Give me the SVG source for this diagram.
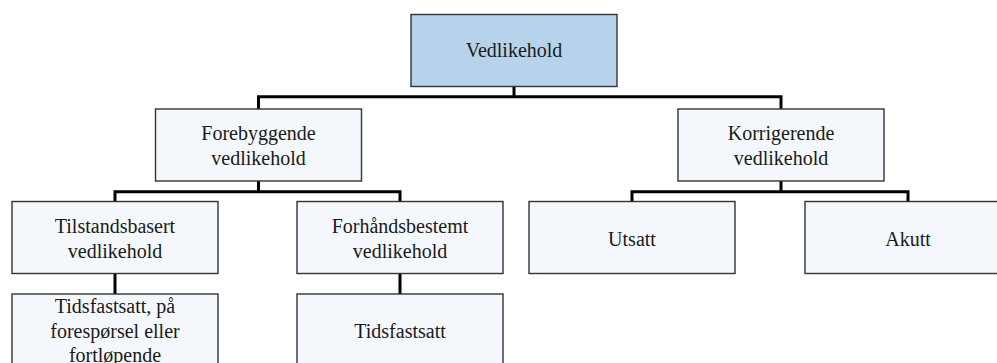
<svg xmlns="http://www.w3.org/2000/svg" width="997" height="363" viewBox="0 0 997 363">
  <style>
    .box { fill: #f4f8fc; stroke: #333333; stroke-width: 1.4; }
    .root { fill: #b7d3ec; }
    .lbl { font-family: 'Times New Roman', 'Liberation Serif', 'DejaVu Serif', 'Noto Serif', Times, serif; font-size: 20px; fill: #1a1a1a; text-anchor: middle; }
    .wire { fill: none; stroke: #000000; stroke-width: 3; stroke-linejoin: miter; }
  </style>

  <rect x="0" y="0" width="997" height="363" fill="#ffffff"/>

  <!-- tree connectors -->
  <g id="connectors">
    <path class="wire" d="M514 87 V96.7"/>
    <path class="wire" d="M258.5 109 V96.7 H781 V109"/>
    <path class="wire" d="M258.5 181 V191.7"/>
    <path class="wire" d="M115 201.5 V191.7 H400 V201.5"/>
    <path class="wire" d="M781 181 V191.7"/>
    <path class="wire" d="M632 201.5 V191.7 H908 V201.5"/>
    <path class="wire" d="M115 273.5 V294"/>
    <path class="wire" d="M400 273.5 V294"/>
  </g>

  <g id="vedlikehold">
    <rect class="box root" x="411" y="14.5" width="206" height="72"/>
    <text class="lbl" x="514" y="57">Vedlikehold</text>
  </g>

  <g id="forebyggende">
    <rect class="box" x="155.5" y="109" width="206" height="72"/>
    <text class="lbl" x="258.5" y="140">Forebyggende</text>
    <text class="lbl" x="258.5" y="165">vedlikehold</text>
  </g>

  <g id="korrigerende">
    <rect class="box" x="678" y="109" width="206" height="72"/>
    <text class="lbl" x="781" y="140">Korrigerende</text>
    <text class="lbl" x="781" y="165">vedlikehold</text>
  </g>

  <g id="tilstandsbasert">
    <rect class="box" x="12" y="201.5" width="206" height="72"/>
    <text class="lbl" x="115" y="233">Tilstandsbasert</text>
    <text class="lbl" x="115" y="258">vedlikehold</text>
  </g>

  <g id="forhandsbestemt">
    <rect class="box" x="297" y="201.5" width="206" height="72"/>
    <text class="lbl" x="400" y="233">Forhåndsbestemt</text>
    <text class="lbl" x="400" y="258">vedlikehold</text>
  </g>

  <g id="utsatt">
    <rect class="box" x="529" y="201.5" width="206" height="72"/>
    <text class="lbl" x="632" y="245.5">Utsatt</text>
  </g>

  <g id="akutt">
    <rect class="box" x="805" y="201.5" width="206" height="72"/>
    <text class="lbl" x="908" y="245.5">Akutt</text>
  </g>

  <g id="tidsfastsatt-tilstand">
    <rect class="box" x="12" y="294" width="206" height="72"/>
    <text class="lbl" x="115" y="313">Tidsfastsatt, på</text>
    <text class="lbl" x="115" y="338">forespørsel eller</text>
    <text class="lbl" x="115" y="362">fortløpende</text>
  </g>

  <g id="tidsfastsatt-forhand">
    <rect class="box" x="297" y="294" width="206" height="72"/>
    <text class="lbl" x="400" y="338">Tidsfastsatt</text>
  </g>
</svg>
